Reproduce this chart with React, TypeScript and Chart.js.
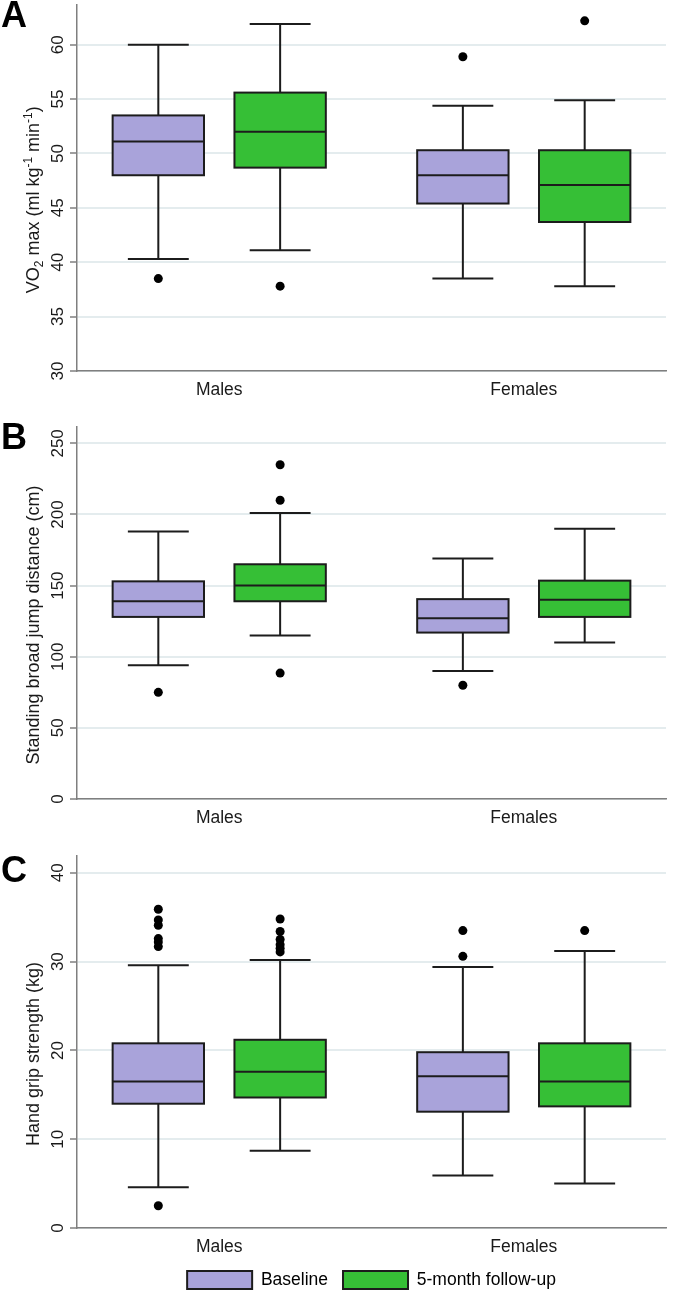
import React, { useEffect, useRef } from "react";
import { Chart, registerables } from "chart.js";

Chart.register(...registerables);

// ---------------- data ----------------
const CATEGORIES = ["Males", "Females"];
const SERIES_NAMES = ["Baseline", "5-month follow-up"];
const SERIES_COLORS = ["#a9a3da", "#36bf36"];

// box stats per category: [lower whisker, Q1, median, Q3, upper whisker]
const VO2_BASELINE = [
  [40.3, 48.0, 51.1, 53.5, 60.0],
  [38.5, 45.4, 48.0, 50.3, 54.4],
];
const VO2_FOLLOWUP = [
  [41.1, 48.7, 52.0, 55.6, 61.9],
  [37.8, 43.7, 47.1, 50.3, 54.9],
];
const VO2_BASELINE_OUTLIERS = [[38.5], [58.9]];
const VO2_FOLLOWUP_OUTLIERS = [[37.8], [62.2]];
const VO2_TICKS = [30, 35, 40, 45, 50, 55, 60];

const JUMP_BASELINE = [
  [94, 128, 139, 153, 188],
  [90, 117, 127, 140.5, 169],
];
const JUMP_FOLLOWUP = [
  [115, 139, 150, 165, 201],
  [110, 128, 140, 153.5, 190],
];
const JUMP_BASELINE_OUTLIERS = [[75], [80]];
const JUMP_FOLLOWUP_OUTLIERS = [[235, 210, 88.5], []];
const JUMP_TICKS = [0, 50, 100, 150, 200, 250];

const GRIP_BASELINE = [
  [4.6, 14.0, 16.5, 20.8, 29.6],
  [5.9, 13.1, 17.1, 19.8, 29.4],
];
const GRIP_FOLLOWUP = [
  [8.7, 14.7, 17.6, 21.2, 30.2],
  [5.0, 13.7, 16.5, 20.8, 31.2],
];
const GRIP_BASELINE_OUTLIERS = [[35.9, 34.7, 34.1, 32.6, 32.2, 31.7, 2.5], [33.5, 30.6]];
const GRIP_FOLLOWUP_OUTLIERS = [[34.8, 33.4, 32.5, 31.9, 31.5, 31.1], [33.5]];
const GRIP_TICKS = [0, 10, 20, 30, 40];

// ---------------- styling ----------------
const FONT = "'Liberation Sans', Arial, Helvetica, sans-serif";
const TEXT_COLOR = "#1a1a1a";
const LINE_COLOR = "#1c1c1c";
const GRID_COLOR = "#e4ecee";
const AXIS_COLOR = "#7f7f7f";
const SERIES_OFFSETS = [-0.2, 0.2];
const BOX_HALF = 0.15;
const CAP_HALF = 0.1;
const X_MIN = -0.467;
const X_MAX = 1.467;

type Seg = { t: string; kind?: "sub" | "sup" };

type PanelCfg = {
  letter: string;
  top: number;
  height: number;
  padTop: number;
  xHeight: number;
  yMin: number;
  yMax: number;
  ticks: number[];
  tickPad: number;
  stats: number[][][];
  outliers: number[][][];
  title: Seg[];
  legend: boolean;
};

const PANELS: PanelCfg[] = [
  {
    letter: "A",
    top: 0,
    height: 412,
    padTop: 2,
    xHeight: 41,
    yMin: 30,
    yMax: 63.7,
    ticks: VO2_TICKS,
    tickPad: 2.5,
    stats: [VO2_BASELINE, VO2_FOLLOWUP],
    outliers: [VO2_BASELINE_OUTLIERS, VO2_FOLLOWUP_OUTLIERS],
    title: [
      { t: "VO" },
      { t: "2", kind: "sub" },
      { t: " max (ml kg" },
      { t: "-1", kind: "sup" },
      { t: " min" },
      { t: "-1", kind: "sup" },
      { t: ")" },
    ],
    legend: false,
  },
  {
    letter: "B",
    top: 412,
    height: 418,
    padTop: 15,
    xHeight: 31,
    yMin: 0,
    yMax: 261.5,
    ticks: JUMP_TICKS,
    tickPad: -2,
    stats: [JUMP_BASELINE, JUMP_FOLLOWUP],
    outliers: [JUMP_BASELINE_OUTLIERS, JUMP_FOLLOWUP_OUTLIERS],
    title: [{ t: "Standing broad jump distance (cm)" }],
    legend: false,
  },
  {
    letter: "C",
    top: 830,
    height: 464,
    padTop: 26,
    xHeight: 28,
    yMin: 0,
    yMax: 41.9,
    ticks: GRIP_TICKS,
    tickPad: 2.5,
    stats: [GRIP_BASELINE, GRIP_FOLLOWUP],
    outliers: [GRIP_BASELINE_OUTLIERS, GRIP_FOLLOWUP_OUTLIERS],
    title: [{ t: "Hand grip strength (kg)" }],
    legend: true,
  },
];

function boxPlugin(p: PanelCfg) {
  return {
    id: "boxes" + p.letter,
    beforeDatasetsDraw(chart: any) {
      const { ctx } = chart;
      const xs = chart.scales.x;
      const ys = chart.scales.y;
      ctx.save();
      ctx.lineWidth = 2;
      ctx.strokeStyle = LINE_COLOR;
      ctx.lineCap = "butt";
      p.stats.forEach((series, s) => {
        series.forEach((st, i) => {
          const c = i + SERIES_OFFSETS[s];
          const xc = xs.getPixelForValue(c);
          const xl = xs.getPixelForValue(c - BOX_HALF);
          const xr = xs.getPixelForValue(c + BOX_HALF);
          const cl = xs.getPixelForValue(c - CAP_HALF);
          const cr = xs.getPixelForValue(c + CAP_HALF);
          const [lo, q1, med, q3, hi] = st.map((v) => ys.getPixelForValue(v));
          ctx.beginPath();
          ctx.moveTo(xc, lo);
          ctx.lineTo(xc, q1);
          ctx.moveTo(xc, q3);
          ctx.lineTo(xc, hi);
          ctx.moveTo(cl, lo);
          ctx.lineTo(cr, lo);
          ctx.moveTo(cl, hi);
          ctx.lineTo(cr, hi);
          ctx.stroke();
          ctx.fillStyle = SERIES_COLORS[s];
          ctx.fillRect(xl, q3, xr - xl, q1 - q3);
          ctx.strokeRect(xl, q3, xr - xl, q1 - q3);
          ctx.beginPath();
          ctx.moveTo(xl, med);
          ctx.lineTo(xr, med);
          ctx.stroke();
        });
      });
      ctx.restore();
    },
  };
}

function titlePlugin(p: PanelCfg) {
  return {
    id: "ytitle" + p.letter,
    afterDraw(chart: any) {
      const { ctx, chartArea } = chart;
      const main = `18px ${FONT}`;
      const small = `12px ${FONT}`;
      ctx.save();
      const widths = p.title.map((seg) => {
        ctx.font = seg.kind ? small : main;
        return ctx.measureText(seg.t).width;
      });
      const total = widths.reduce((a, b) => a + b, 0);
      const cx = chartArea.left - 42.5;
      const cy = (chartArea.top + chartArea.bottom) / 2 + 12;
      ctx.translate(cx, cy);
      ctx.rotate(-Math.PI / 2);
      ctx.fillStyle = TEXT_COLOR;
      ctx.textBaseline = "middle";
      ctx.textAlign = "left";
      let x = -total / 2;
      p.title.forEach((seg, k) => {
        ctx.font = seg.kind ? small : main;
        const dy = seg.kind === "sub" ? 5 : seg.kind === "sup" ? -6 : 0;
        ctx.fillText(seg.t, x, dy);
        x += widths[k];
      });
      ctx.restore();
    },
  };
}

function buildConfig(p: PanelCfg): any {
  const datasets = p.outliers.map((series, s) => ({
    label: SERIES_NAMES[s],
    data: series.flatMap((vals, i) => vals.map((y) => ({ x: i + SERIES_OFFSETS[s], y }))),
    pointRadius: 4.5,
    pointHoverRadius: 4.5,
    pointBackgroundColor: "#000",
    pointBorderWidth: 0,
    showLine: false,
  }));
  return {
    type: "scatter",
    data: { datasets },
    plugins: [boxPlugin(p), titlePlugin(p)],
    options: {
      animation: false,
      responsive: false,
      maintainAspectRatio: false,
      events: [],
      layout: { padding: { top: p.padTop, right: 19, bottom: 0, left: 0 } },
      plugins: {
        tooltip: { enabled: false },
        title: { display: false },
        legend: p.legend
          ? {
              display: true,
              position: "bottom",
              fullSize: false,
              maxHeight: 38,
              labels: {
                boxWidth: 65,
                boxHeight: 18,
                padding: 15,
                color: TEXT_COLOR,
                font: { family: FONT, size: 17.5 },
                generateLabels: () =>
                  SERIES_NAMES.map((t, i) => ({
                    text: t,
                    fillStyle: SERIES_COLORS[i],
                    strokeStyle: LINE_COLOR,
                    lineWidth: 2,
                    hidden: false,
                    datasetIndex: i,
                  })),
              },
            }
          : { display: false },
      },
      scales: {
        x: {
          type: "linear",
          min: X_MIN,
          max: X_MAX,
          afterBuildTicks: (s: any) => {
            s.ticks = CATEGORIES.map((_, i) => ({ value: i }));
          },
          afterFit: (s: any) => {
            s.height = p.xHeight;
            s.paddingLeft = 0;
            s.paddingRight = 0;
          },
          grid: { display: false, drawTicks: false },
          border: { display: true, color: AXIS_COLOR, width: 1.5 },
          ticks: {
            autoSkip: false,
            maxRotation: 0,
            padding: 9,
            color: TEXT_COLOR,
            font: { family: FONT, size: 17.5 },
            callback: (_v: any, idx: number) => CATEGORIES[idx],
          },
        },
        y: {
          type: "linear",
          min: p.yMin,
          max: p.yMax,
          afterBuildTicks: (s: any) => {
            s.ticks = p.ticks.map((v) => ({ value: v }));
          },
          afterFit: (s: any) => {
            s.width = 77;
            s.paddingTop = 0;
            s.paddingBottom = 0;
          },
          grid: {
            color: GRID_COLOR,
            lineWidth: 2,
            drawTicks: true,
            tickLength: 7,
            tickColor: AXIS_COLOR,
            tickWidth: 1.5,
          },
          border: { display: true, color: AXIS_COLOR, width: 1.5 },
          ticks: {
            autoSkip: false,
            minRotation: 90,
            maxRotation: 90,
            crossAlign: "center",
            padding: p.tickPad,
            color: TEXT_COLOR,
            font: { family: FONT, size: 17 },
          },
        },
      },
    },
  };
}

function Panel({ p }: { p: PanelCfg }) {
  const ref = useRef<HTMLCanvasElement>(null);
  useEffect(() => {
    const chart = new Chart(ref.current as HTMLCanvasElement, buildConfig(p));
    return () => chart.destroy();
  }, []);
  return (
    <>
      <canvas
        ref={ref}
        width={685}
        height={p.height}
        style={{ position: "absolute", left: 0, top: p.top, width: 685, height: p.height, display: "block" }}
      />
      <div
        style={{
          position: "absolute",
          left: 1,
          top: p.top + (p.letter === "A" ? -3 : p.letter === "B" ? 6.6 : 22),
          font: `bold 36px ${FONT}`,
          lineHeight: "36px",
          color: "#000",
        }}
      >
        {p.letter}
      </div>
    </>
  );
}

export default function App() {
  return (
    <div
      style={{
        position: "absolute",
        left: 0,
        top: 0,
        width: 685,
        height: 1294,
        background: "#fff",
        overflow: "hidden",
      }}
    >
      {PANELS.map((p) => (
        <Panel key={p.letter} p={p} />
      ))}
    </div>
  );
}
